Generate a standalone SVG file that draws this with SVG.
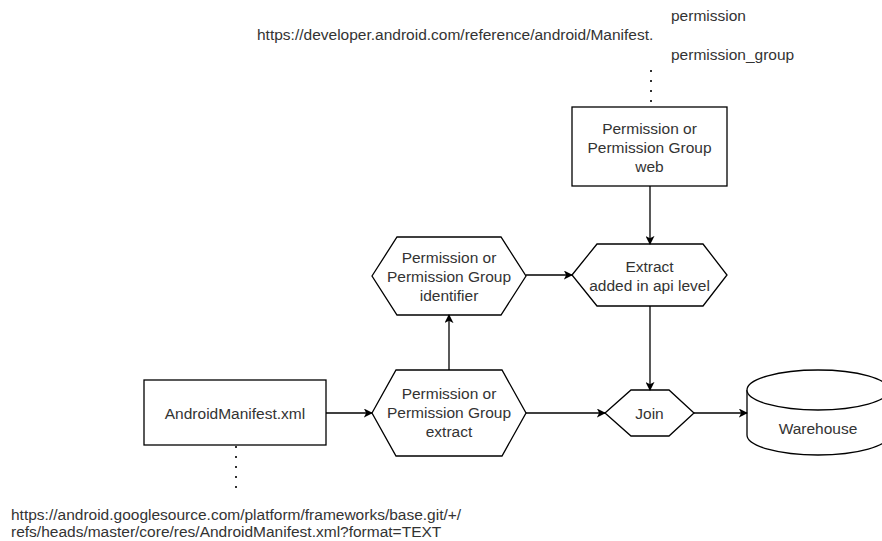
<svg xmlns="http://www.w3.org/2000/svg" width="882" height="541" viewBox="0 0 882 541">
  <defs>
    <marker id="arrow" viewBox="0 0 10 10" refX="9" refY="5" markerWidth="9" markerHeight="9" markerUnits="userSpaceOnUse" orient="auto">
      <path d="M0,0 L10,5 L0,10 L2.5,5 Z" fill="#000"/>
    </marker>
  </defs>
  <style>
    .shape { fill: #fff; stroke: #000; stroke-width: 1.3; }
    .label { font-family: "Liberation Sans", Arial, sans-serif; font-size: 15.5px; fill: #333; text-anchor: middle; dominant-baseline: central; }
    .note { font-family: "Liberation Sans", Arial, sans-serif; font-size: 15.5px; fill: #333; }
    .edge { fill: none; stroke: #000; stroke-width: 1.3; marker-end: url(#arrow); }
    .dots { fill: none; stroke: #333; stroke-width: 2; stroke-dasharray: 2 8; }
  </style>

  <rect width="882" height="541" fill="#fff"/>

  <!-- source notes -->
  <g id="note-developer">
    <text class="note" x="671" y="21">permission</text>
    <text class="note" x="257" y="40">https://developer.android.com/reference/android/Manifest.</text>
    <text class="note" x="671" y="59.5">permission_group</text>
  </g>
  <g id="note-googlesource">
    <text class="note" x="11" y="520">https://android.googlesource.com/platform/frameworks/base.git/+/</text>
    <text class="note" x="11" y="536.5">refs/heads/master/core/res/AndroidManifest.xml?format=TEXT</text>
  </g>

  <!-- nodes -->
  <g id="web">
    <rect class="shape" x="572" y="107" width="155" height="79"/>
    <text class="label" x="649.5" y="128">Permission or</text>
    <text class="label" x="649.5" y="147">Permission Group</text>
    <text class="label" x="649.5" y="166">web</text>
  </g>

  <g id="identifier">
    <polygon class="shape" points="372,276 397,237 501,237 526,276 501,315 397,315"/>
    <text class="label" x="449" y="257">Permission or</text>
    <text class="label" x="449" y="276">Permission Group</text>
    <text class="label" x="449" y="295">identifier</text>
  </g>

  <g id="extract-api-level">
    <polygon class="shape" points="572,275 597,244 703,244 727,275 703,306 597,306"/>
    <text class="label" x="649.5" y="266">Extract</text>
    <text class="label" x="649.5" y="285">added in api level</text>
  </g>

  <g id="manifest-xml">
    <rect class="shape" x="144" y="380" width="182" height="65"/>
    <text class="label" x="235" y="413">AndroidManifest.xml</text>
  </g>

  <g id="extract">
    <polygon class="shape" points="372,413 396,370 502,370 526,413 502,456 396,456"/>
    <text class="label" x="449" y="393">Permission or</text>
    <text class="label" x="449" y="412">Permission Group</text>
    <text class="label" x="449" y="431">extract</text>
  </g>

  <g id="join">
    <polygon class="shape" points="605,413 631,390 669,390 694,413 669,436 631,436"/>
    <text class="label" x="649.5" y="413">Join</text>
  </g>

  <g id="warehouse">
    <path class="shape" d="M747,390 a71,20 0 0 1 142,0 v45 a71,20 0 0 1 -142,0 Z"/>
    <path class="shape" fill="none" d="M747,390 a71,20 0 0 0 142,0"/>
    <text class="label" x="818" y="428">Warehouse</text>
  </g>

  <!-- connectors -->
  <g id="connectors">
    <path class="dots" d="M651,102 L651,64"/>
    <path class="dots" d="M236,446 L236,492"/>
    <path class="edge" d="M650,186 L650,244"/>
    <path class="edge" d="M526,275 L572,275"/>
    <path class="edge" d="M449,370 L449,315"/>
    <path class="edge" d="M326,413 L372,413"/>
    <path class="edge" d="M526,413 L605,413"/>
    <path class="edge" d="M650,306 L650,390"/>
    <path class="edge" d="M694,413 L747,413"/>
  </g>
</svg>
